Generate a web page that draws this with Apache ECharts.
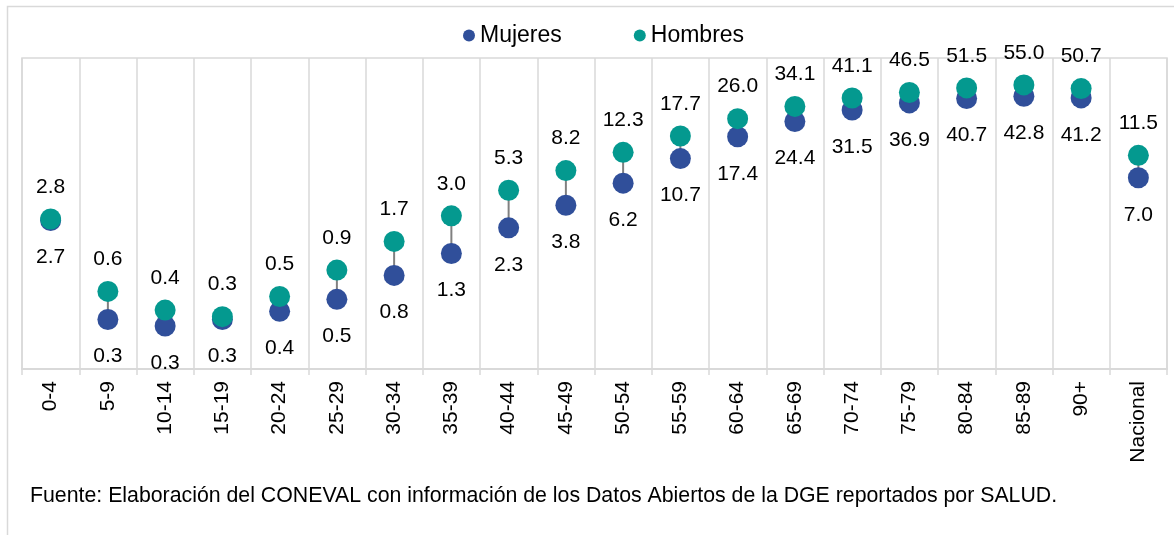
<!DOCTYPE html>
<html>
<head>
<meta charset="utf-8">
<script src="https://cdn.jsdelivr.net/npm/echarts@6/dist/echarts.min.js"></script>
<style>
  html, body { margin: 0; padding: 0; background: #fff; }
  #main { width: 1174px; height: 535px; }
</style>
</head>
<body>
<div id="main"></div>
<script>
// grupos de edad
var categories = ['0-4', '5-9', '10-14', '15-19', '20-24', '25-29', '30-34', '35-39', '40-44', '45-49',
  '50-54', '55-59', '60-64', '65-69', '70-74', '75-79', '80-84', '85-89', '90+', 'Nacional'];
var mujeres = [2.7, 0.3, 0.26, 0.3, 0.36, 0.47, 0.8, 1.3, 2.3, 3.8, 6.2, 10.7, 17.4, 24.4, 31.5, 36.9, 40.7, 42.8, 41.2, 7.0];
var hombres = [2.8, 0.56, 0.37, 0.32, 0.5, 0.9, 1.7, 3.0, 5.3, 8.2, 12.3, 17.7, 26.0, 34.1, 41.1, 46.5, 51.5, 55.0, 50.7, 11.5];
var fuente = 'Fuente: Elaboración del CONEVAL con información de los Datos Abiertos de la DGE reportados por SALUD.';

var colorM = '#304f9a';
var colorH = '#04998f';
var font = '"Liberation Sans", Arial, sans-serif';

var myChart = echarts.init(document.getElementById('main'));

var fmt = function (p) { return Number(p.value).toFixed(1); };

var option = {
  animation: false,
  color: [colorM, colorH],
  textStyle: { fontFamily: font },
  legend: {
    top: 19,
    left: 458,
    icon: 'circle',
    itemWidth: 12,
    itemHeight: 12,
    itemGap: 72,
    textStyle: { fontSize: 23, color: '#000', fontFamily: font },
    data: ['Mujeres', 'Hombres']
  },
  grid: {
    left: 22,
    right: 7,
    top: 58,
    bottom: 166,
    show: true,
    borderColor: '#d9d9d9',
    borderWidth: 1.5
  },
  xAxis: {
    type: 'category',
    data: categories,
    boundaryGap: true,
    axisLine: { lineStyle: { color: '#d9d9d9', width: 2 } },
    axisTick: { show: true, length: 6, interval: 0, lineStyle: { color: '#d9d9d9', width: 1.5 } },
    splitLine: { show: true, interval: 0, lineStyle: { color: '#d9d9d9', width: 1.5 } },
    axisLabel: { rotate: 90, interval: 0, margin: 12, fontSize: 21, color: '#000', fontFamily: font }
  },
  yAxis: {
    type: 'log',
    logBase: 10,
    min: 0.1,
    max: 100,
    show: false,
    splitLine: { show: false }
  },
  graphic: [
    {
      type: 'rect',
      left: 5, top: 4,
      shape: { width: 1300, height: 700 },
      style: { fill: 'none', stroke: '#d9d9d9', lineWidth: 1.5 },
      silent: true
    },
    {
      type: 'text',
      left: 30, top: 486,
      style: { text: fuente, fontSize: 21.3, fill: '#000', fontFamily: font }
    }
  ],
  series: [
    {
      // líneas de unión entre ambos puntos
      type: 'custom',
      silent: true,
      z: 1,
      encode: { x: 0, y: [1, 2] },
      data: categories.map(function (c, i) { return [i, mujeres[i], hombres[i]]; }),
      renderItem: function (params, api) {
        var a = api.coord([api.value(0), api.value(1)]);
        var b = api.coord([api.value(0), api.value(2)]);
        return {
          type: 'line',
          shape: { x1: a[0], y1: a[1], x2: b[0], y2: b[1] },
          style: { stroke: '#808080', lineWidth: 2 }
        };
      }
    },
    {
      name: 'Mujeres',
      type: 'scatter',
      z: 3,
      symbolSize: 21,
      itemStyle: { color: colorM, opacity: 1 },
      data: mujeres,
      label: { show: true, position: 'bottom', distance: 16, formatter: fmt, fontSize: 21, color: '#000', fontFamily: font }
    },
    {
      name: 'Hombres',
      type: 'scatter',
      z: 4,
      symbolSize: 21,
      itemStyle: { color: colorH, opacity: 1 },
      data: hombres,
      label: { show: true, position: 'top', distance: 11, formatter: fmt, fontSize: 21, color: '#000', fontFamily: font }
    }
  ]
};

myChart.setOption(option);
</script>
</body>
</html>
